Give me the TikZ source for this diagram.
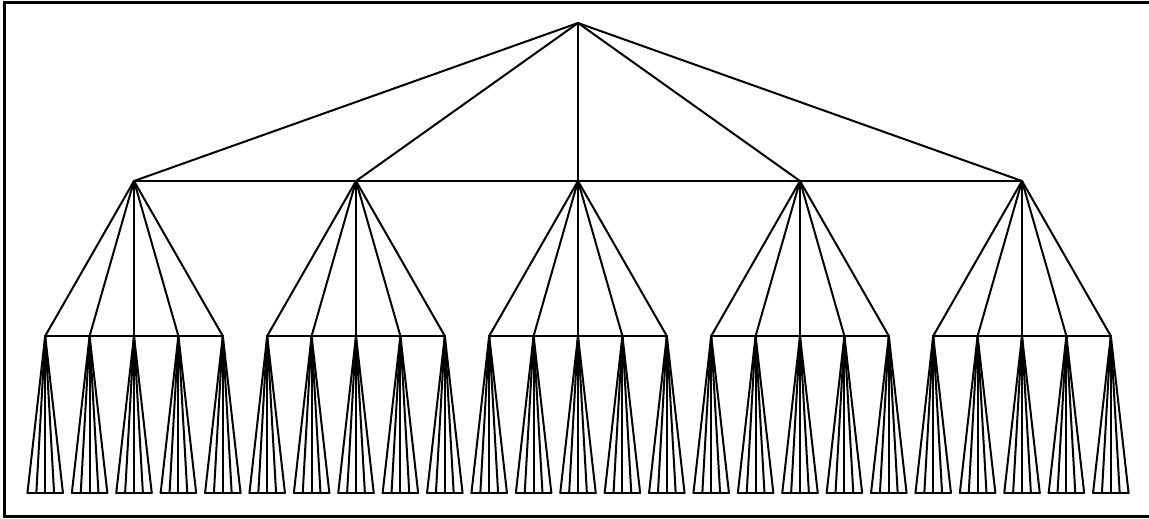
\documentclass[tikz,border=0pt]{standalone}
\begin{document}
\begin{tikzpicture}[x=0.75pt, y=-0.75pt,
    edge/.style={
        line width=1.5pt,
        line cap=round},
    frame/.style={
        line width=1.6pt}
    ]

    \useasboundingbox (0,0) rectangle (1149,518);
    \draw [frame] (1160,2.5) -- (4.5,2.5) -- (4.5,516.5) -- (1160,516.5);

    % root and the three levels below it
    \coordinate (r) at (578,23);
    \foreach \i in {1,...,5} {
        \coordinate (n\i) at ({578+(\i-3)*222},181);
        \foreach \j in {1,...,5} {
            \coordinate (n\i-\j) at ({578+(\i-3)*222+(\j-3)*44.4},336);
            \foreach \k in {1,...,5}
                \coordinate (n\i-\j-\k) at ({578+(\i-3)*222+(\j-3)*44.4+(\k-3)*8.88},493);
        }
    }

    \foreach \i in {1,...,5} {
        \draw [edge] (r) -- (n\i);
        \foreach \j in {1,...,5} {
            \draw [edge] (n\i) -- (n\i-\j);
            \foreach \k in {1,...,5}
                \draw [edge] (n\i-\j) -- (n\i-\j-\k);
            \draw [edge] (n\i-\j-1) -- (n\i-\j-5);
        }
        \draw [edge] (n\i-1) -- (n\i-5);
    }
    \draw [edge] (n1) -- (n5);

\end{tikzpicture}
\end{document}
